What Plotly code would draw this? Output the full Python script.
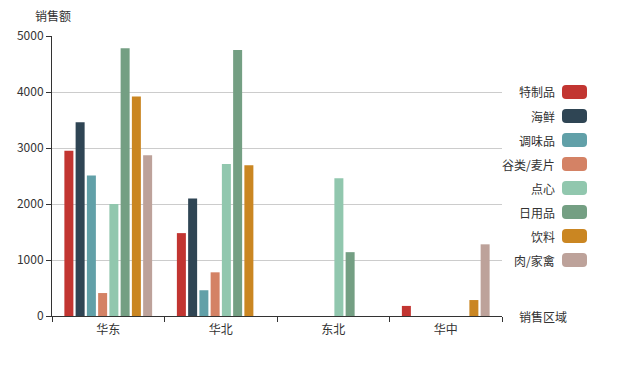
import plotly.graph_objects as go

regions = ["华东", "华北", "东北", "华中"]
series_names = ["特制品", "海鲜", "调味品", "谷类/麦片", "点心", "日用品", "饮料", "肉/家禽"]
values = {
    "特制品": [2950, 1480, None, 180],
    "海鲜": [3460, 2100, None, None],
    "调味品": [2510, 460, None, None],
    "谷类/麦片": [410, 780, None, None],
    "点心": [2000, 2715, 2460, None],
    "日用品": [4780, 4750, 1140, None],
    "饮料": [3920, 2690, None, 285],
    "肉/家禽": [2870, None, None, 1280],
}
colors = ["#c23531", "#2f4554", "#61a0a8", "#d48265", "#91c7ae", "#749f83", "#ca8622", "#bda29a"]
y_ticks = [0, 1000, 2000, 3000, 4000, 5000]

FONT = "Noto Sans CJK SC, Microsoft YaHei, sans-serif"

fig = go.Figure()
for name, col in zip(series_names, colors):
    fig.add_trace(go.Bar(x=regions, y=values[name], name=name, marker_color=col,
                         marker_line_width=0, showlegend=False))

# page body has an 8px default margin; compensate
OFF = 8
W, H = 619, 367
L, T = 52 - OFF, 36 - OFF
PR, PB = 502 - OFF, 316 - OFF  # plot right / bottom in figure px
R, B = W - PR, H - PB
plot_w, plot_h = PR - L, PB - T

fig.update_layout(
    width=W, height=H,
    margin=dict(l=L, r=R, t=T, b=B, pad=0, autoexpand=False),
    paper_bgcolor="white", plot_bgcolor="white",
    barmode="group", bargap=0.2, bargroupgap=0.2,
    font=dict(family=FONT, size=12, color="#333"),
    xaxis=dict(type="category", tickson="boundaries", ticks="outside", ticklen=5,
               tickcolor="#333", showline=True, linecolor="#333", linewidth=1,
               showgrid=False, automargin=False, ticklabelstandoff=3,
               tickfont=dict(size=12, color="#333")),
    yaxis=dict(range=[0, 5000], tickvals=y_ticks, ticks="outside", ticklen=5,
               tickcolor="#333", showline=True, linecolor="#333", linewidth=1,
               showgrid=True, gridcolor="#ccc", gridwidth=1, zeroline=False,
               automargin=False, tickfont=dict(size=12, color="#333")),
)


def px_x(x):
    return (x - OFF - L) / plot_w


def px_y(y):
    return (PB - (y - OFF)) / plot_h


def rounded_rect(x0, x1, y0, y1, r):
    # pixel coords (screen), y0 top, y1 bottom
    X = lambda v: f"{px_x(v):.6f}"
    Y = lambda v: f"{px_y(v):.6f}"
    return (f"M {X(x0 + r)},{Y(y0)} L {X(x1 - r)},{Y(y0)} Q {X(x1)},{Y(y0)} {X(x1)},{Y(y0 + r)} "
            f"L {X(x1)},{Y(y1 - r)} Q {X(x1)},{Y(y1)} {X(x1 - r)},{Y(y1)} "
            f"L {X(x0 + r)},{Y(y1)} Q {X(x0)},{Y(y1)} {X(x0)},{Y(y1 - r)} "
            f"L {X(x0)},{Y(y0 + r)} Q {X(x0)},{Y(y0)} {X(x0 + r)},{Y(y0)} Z")


annotations = [
    dict(text="销售额", xref="paper", yref="paper", x=px_x(33), y=px_y(15),
         xanchor="left", yanchor="middle", showarrow=False, font=dict(size=12, color="#333")),
    dict(text="销售区域", xref="paper", yref="paper", x=px_x(517), y=px_y(316),
         xanchor="left", yanchor="middle", showarrow=False, font=dict(size=12, color="#333")),
]
shapes = []
for i, (name, col) in enumerate(zip(series_names, colors)):
    ypx = 92 + 24 * i
    annotations.append(dict(text=name, xref="paper", yref="paper",
                            x=px_x(557), y=px_y(ypx), xanchor="right", yanchor="middle",
                            showarrow=False, font=dict(size=12, color="#333")))
    shapes.append(dict(type="path", xref="paper", yref="paper",
                       path=rounded_rect(562, 587, ypx - 7, ypx + 7, 4),
                       fillcolor=col, line=dict(width=0), layer="above"))

fig.update_layout(annotations=annotations, shapes=shapes)
fig.write_html("out.html")
